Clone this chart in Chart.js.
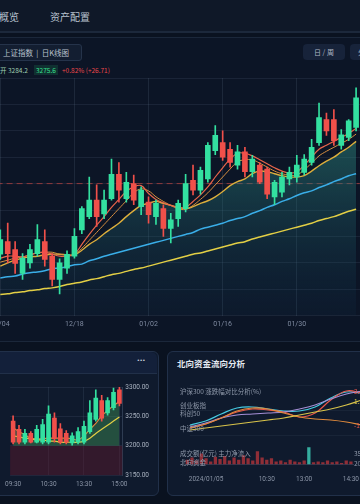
<!DOCTYPE html>
<html>
<head>
<meta charset="utf-8">
<script src="https://cdn.jsdelivr.net/npm/chart.js@4.4.0/dist/chart.umd.min.js"></script>
<style>
  body { margin: 0; width: 360px; height: 504px; overflow: hidden; position: relative;
         background: #0a1220; font-family: "Noto Sans CJK SC", "Noto Sans", sans-serif; color: #c3cad6; }
  .abs { position: absolute; white-space: nowrap; }
  #nav { left: 0; top: 0; width: 360px; height: 31px; background: #0f1828; border-bottom: 2px solid #1c283b; }
  .navtxt { top: 9px; font-size: 10px; color: #b8c1ce; }
  #mainPanel { left: -6px; top: 37px; width: 372px; height: 303px; background: #0c1526;
               border: 1px solid #1b273a; border-radius: 6px; }
  #symbolBox { left: -4px; top: 44px; width: 78px; height: 15px; background: #131e31; border: 1px solid #25334a;
               border-radius: 3px; font-size: 7.5px; line-height: 15px; padding-left: 6px; color: #b9c1cd; }
  .btn { top: 44px; height: 16px; background: #17233a; border-radius: 4px; font-size: 7px;
         line-height: 16px; text-align: center; color: #aeb7c5; }
  .leg { top: 65px; font-size: 6.5px; line-height: 10px; }
  .panel { top: 351px; height: 143px; background: #0f1a2d; border: 1px solid #213049; border-radius: 6px; }
  .lbl { font-size: 6.5px; color: #8f99aa; }
</style>
</head>
<body>
<div id="nav" class="abs"></div>
<div class="abs navtxt" style="left:-21px">行情概览</div>
<div class="abs navtxt" style="left:50px">资产配置</div>

<div id="mainPanel" class="abs"></div>
<div id="symbolBox" class="abs">上证指数 &nbsp;|&nbsp; 日K线图</div>
<div class="abs btn" style="left:303px;width:42px">日 / 周</div>
<div class="abs btn" style="left:350px;width:30px">分时</div>
<div class="abs leg" style="left:0;color:#9fcfb0">开 3284.2</div>
<div class="abs leg" style="left:34px;color:#38e08f;background:rgba(40,190,110,0.16);padding:0 2px">3275.6</div>
<div class="abs leg" style="left:62px;color:#e8474a">+0.82% (+26.71)</div>
<div class="abs" style="left:-13px;top:76px;width:373px;height:264px"><canvas id="mainChart"></canvas></div>

<div class="abs panel" style="left:-8px;width:165px"></div>
<div class="abs" style="left:-7px;top:352px;width:164px;height:21px;background:#13203a;border-bottom:1px solid #213049;border-radius:6px 6px 0 0"></div>
<div class="abs" style="left:137px;top:356px;font-size:8px;font-family:Roboto;color:#c9d0db">•••</div>
<div class="abs" style="left:0;top:378px;width:152px;height:117px"><canvas id="miniChart"></canvas></div>

<div class="abs panel" style="left:167px;width:210px"></div>
<div class="abs" style="left:177px;top:357px;font-size:8.5px;font-weight:bold;color:#e4e9f0">北向资金流向分析</div>
<div class="abs" style="left:175px;top:380px;width:187px;height:60px"><canvas id="flowChart"></canvas></div>
<div class="abs" style="left:168px;top:441px;width:194px;height:48px"><canvas id="volChart"></canvas></div>
<div class="abs lbl" style="left:180px;top:386px">沪深300 涨跌幅对比分析(%)</div>
<div class="abs lbl" style="left:180px;top:400px">创业板指</div>
<div class="abs lbl" style="left:180px;top:408px">科创50</div>
<div class="abs lbl" style="left:180px;top:423px">中证500</div>
<div class="abs lbl" style="left:180px;top:448px">成交额(亿元) 主力净流入</div>
<div class="abs lbl" style="left:180px;top:457px">北向资金</div>
<div class="abs lbl" style="left:354px;top:386px;color:#e8574a">2.4</div>
<div class="abs lbl" style="left:354px;top:396px;color:#d8c34a">1.5</div>
<div class="abs lbl" style="left:354px;top:420px;color:#e8574a">-1.0</div>
<div class="abs lbl" style="left:354px;top:448px">35</div>
<div class="abs lbl" style="left:354px;top:458px">20</div>

<script>
// ---- main candlestick chart ----
const mainTickText = ['12/04', '12/18', '01/02', '01/16', '01/30'];
const alertLevel = 3200;
// [open, high, low, close]
const mainOHLC = [
  [3093,3130,3085,3115], [3112,3140,3080,3094], [3100,3112,3064,3079], [3064,3094,3055,3087],
  [3080,3108,3072,3100], [3094,3138,3090,3115], [3112,3130,3075,3085], [3090,3094,3045,3055],
  [3055,3086,3033,3080], [3072,3098,3064,3093], [3090,3132,3087,3120], [3130,3165,3124,3162],
  [3150,3210,3147,3175], [3175,3198,3135,3150], [3154,3190,3147,3175], [3177,3237,3175,3214],
  [3214,3232,3172,3190], [3177,3217,3172,3202], [3200,3213,3168,3175], [3165,3195,3153,3190],
  [3172,3180,3140,3153], [3150,3175,3138,3170], [3162,3168,3120,3132], [3132,3155,3110,3145],
  [3147,3175,3135,3170], [3162,3214,3157,3200], [3205,3228,3183,3190], [3190,3225,3184,3220],
  [3207,3262,3202,3258], [3250,3288,3244,3273], [3262,3280,3235,3240], [3252,3262,3225,3232],
  [3228,3258,3222,3248], [3248,3255,3210,3218], [3218,3243,3210,3237], [3228,3232,3200,3202],
  [3222,3225,3177,3184], [3180,3205,3168,3202], [3187,3217,3180,3210], [3207,3225,3198,3217],
  [3210,3243,3202,3228], [3217,3244,3213,3237], [3232,3267,3228,3255], [3262,3322,3258,3300],
  [3297,3307,3273,3280], [3297,3312,3258,3265], [3258,3282,3252,3274], [3270,3297,3265,3295],
  [3285,3345,3280,3330]
];
const ma5 = [3087,3090,3090,3089,3092,3095,3096,3093,3090,3090,3093,3108,3123,3137,3150,3164,3176,3188,3195,3197,
  3185,3176,3171,3167,3164,3164,3173,3183,3195,3210,3224,3237,3246,3246,3242,3236,3230,3224,3219,3216,
  3218,3228,3240,3252,3258,3264,3270,3276,3284];
const ma10 = [3081,3084,3087,3089,3092,3095,3096,3096,3093,3092,3092,3102,3114,3126,3138,3150,3162,3174,3186,3192,
  3189,3180,3173,3167,3162,3161,3167,3176,3186,3198,3210,3222,3233,3236,3236,3231,3225,3219,3215,3213,
  3213,3221,3231,3242,3249,3255,3261,3267,3275];
const ma20 = [3075,3080,3084,3087,3089,3090,3092,3093,3093,3092,3092,3099,3108,3115,3124,3132,3140,3150,3159,3167,
  3170,3173,3170,3167,3164,3162,3165,3170,3174,3180,3188,3197,3203,3207,3215,3219,3218,3215,3212,3210,
  3210,3212,3219,3227,3234,3240,3248,3255,3264];
const ma60 = [3057,3059,3060,3063,3065,3066,3068,3071,3072,3074,3077,3078,3083,3086,3090,3093,3096,3099,3102,3105,
  3108,3111,3114,3117,3120,3123,3126,3131,3134,3137,3140,3144,3147,3150,3155,3159,3164,3168,3173,3177,
  3182,3186,3189,3194,3198,3203,3207,3212,3215];
const ma120 = [3032,3033,3035,3036,3038,3039,3041,3042,3044,3047,3049,3051,3054,3056,3059,3062,3064,3067,3070,3072,
  3075,3078,3081,3084,3087,3090,3093,3095,3098,3101,3104,3107,3110,3112,3116,3119,3122,3125,3128,3131,
  3134,3137,3140,3144,3147,3150,3154,3158,3161];

// ---- small intraday panel ----
const miniTickAt = [0, 6, 12, 18];
const miniTickText = ['09:30', '10:30', '13:30', '15:00'];
const miniBase = 3200;
const miniOHLC = [
  [3242,3251,3203,3206], [3228,3235,3203,3206], [3206,3228,3203,3221], [3221,3224,3205,3206],
  [3206,3235,3205,3228], [3206,3245,3203,3236], [3206,3268,3203,3254], [3247,3256,3206,3212],
  [3229,3238,3203,3206], [3221,3226,3203,3206], [3205,3222,3201,3217], [3206,3231,3203,3224],
  [3206,3242,3203,3233], [3224,3277,3221,3256], [3245,3295,3242,3281], [3277,3286,3242,3247],
  [3256,3282,3252,3277], [3265,3298,3261,3291], [3295,3300,3268,3272]
];
const miniMaA = [3231,3224,3219,3213,3212,3212,3213,3213,3213,3213,3212,3210,3217,3228,3238,3251,3260,3268,3276];
const miniMaB = [3217,3215,3213,3212,3210,3210,3208,3208,3206,3206,3206,3206,3208,3213,3221,3228,3235,3242,3249];

// ---- flow panel ----
const flowCyan   = [-1.0,-0.6,0.1,0.7,0.8,0.6,0.4,0.4,0.8,1.7,2.3,2.2];
const flowRed    = [-1.3,-0.9,-0.3,0.3,0.6,0.5,0.3,-0.2,0.2,1.5,2.4,2.2];
const flowOrange = [-1.3,-0.9,-0.3,0.4,0.7,0.6,0.2,-0.2,-0.4,-0.5,-0.7,-1.0];
const flowYellow = [-1.5,-1.3,-1.1,-0.9,-0.7,-0.5,-0.3,0.0,0.3,0.6,1.0,1.5];
const flowPurple = [-1.2,-0.8,-0.3,0.0,0.1,0.2,0.3,0.6,1.0,1.6,2.1,2.4];
const volume = [6,9,5,14,8,4,10,7,11,5,9,6,12,8,5,17,9,6,8,4,5,3,6,4,3,5,22,3,4,3,5,3,4,2,5,4];
const volInflowAt = [26];
const volTickAt = [4, 17, 25, 35];
const volTickText = ['2024/01/05', '10:30', '13:00', '14:30'];

const UP = '#33e0a0', DOWN = '#f0504a';

const levels = {
  id: 'levels',
  beforeDatasetsDraw(chart, args, opts) {
    const { ctx, chartArea: a, scales: { y } } = chart;
    ctx.save();
    if (opts.zoneBelow != null) {
      const py = y.getPixelForValue(opts.zoneBelow);
      ctx.fillStyle = 'rgba(95,25,45,0.45)';
      ctx.fillRect(a.left, py, a.right - a.left, a.bottom - py);
    }
    if (opts.dashed != null) {
      const py = y.getPixelForValue(opts.dashed);
      ctx.strokeStyle = 'rgba(205,70,65,0.65)';
      ctx.lineWidth = 1;
      ctx.setLineDash([6, 4]);
      ctx.beginPath(); ctx.moveTo(a.left, py); ctx.lineTo(a.right, py); ctx.stroke();
    }
    ctx.restore();
  }
};

function candleSets(ohlc, bodyWidth) {
  const col = ohlc.map(k => k[3] >= k[0] ? UP : DOWN);
  return [
    { type: 'bar', data: ohlc.map(k => [k[2], k[1]]), backgroundColor: col, barThickness: 1, grouped: false, order: 2 },
    { type: 'bar', data: ohlc.map(k => [k[0], k[3]]), backgroundColor: col, barThickness: bodyWidth, minBarLength: 1, grouped: false, order: 1 }
  ];
}

function maLine(data, color, width, extra) {
  return Object.assign({ type: 'line', data: data, borderColor: color, borderWidth: width,
    pointRadius: 0, tension: 0.4, fill: false, order: 5 }, extra || {});
}

const gridCol = 'rgba(120,140,170,0.13)';
const tickFont = { size: 7, family: 'Roboto' };

new Chart(document.getElementById('mainChart'), {
  type: 'bar',
  data: {
    labels: mainOHLC.map((k, i) => i),
    datasets: [
      ...candleSets(mainOHLC, 5),
      maLine(ma5, '#e8654a', 1.2),
      maLine(ma10, '#d99040', 1),
      maLine(ma20, '#dcae3c', 1.4, {
        fill: 'start', order: 6,
        backgroundColor: (c) => {
          const a = c.chart.chartArea;
          if (!a) return 'rgba(40,130,120,0.3)';
          const g = c.chart.ctx.createLinearGradient(0, a.top, 0, a.bottom);
          g.addColorStop(0.2, 'rgba(50,150,135,0.5)');
          g.addColorStop(1, 'rgba(20,60,90,0.12)');
          return g;
        }
      }),
      maLine(ma60, '#3aaee8', 1.5),
      maLine(ma120, '#e3cf45', 1.5)
    ]
  },
  options: {
    animation: false, maintainAspectRatio: false, responsive: true,
    layout: { padding: { top: 2, bottom: 8 } },
    plugins: { legend: { display: false }, tooltip: { enabled: false }, levels: { dashed: alertLevel } },
    scales: {
      x: {
        grid: { offset: false, drawTicks: false, color: (c) => c.index % 10 === 0 ? 'rgba(120,140,170,0.16)' : 'transparent' },
        border: { display: false },
        ticks: { autoSkip: false, maxRotation: 0, padding: 4, color: '#7f8aa0', font: tickFont,
                 callback: (v, i) => i % 10 === 0 ? mainTickText[i / 10] : '' }
      },
      y: {
        position: 'right', min: 3000, max: 3360,
        grid: { color: gridCol, drawTicks: false }, border: { display: false },
        ticks: { display: false, stepSize: 40 }
      }
    }
  },
  plugins: [levels]
});

new Chart(document.getElementById('miniChart'), {
  type: 'bar',
  data: {
    labels: miniOHLC.map((k, i) => i),
    datasets: [
      ...candleSets(miniOHLC, 4),
      maLine(miniMaA, '#e08a3c', 1.2, { fill: { value: miniBase }, backgroundColor: 'rgba(70,165,95,0.38)', order: 6 }),
      maLine(miniMaB, '#e3cf45', 1.2)
    ]
  },
  options: {
    animation: false, maintainAspectRatio: false, responsive: true,
    layout: { padding: { top: 9, bottom: 2 } },
    plugins: { legend: { display: false }, tooltip: { enabled: false }, levels: { zoneBelow: miniBase } },
    scales: {
      x: {
        grid: { offset: false, drawTicks: false, color: (c) => miniTickAt.includes(c.index) && c.index > 0 ? 'rgba(120,140,170,0.14)' : 'transparent' },
        border: { display: false },
        ticks: { autoSkip: false, maxRotation: 0, padding: 5, color: '#8a94a6', font: { size: 6.5, family: 'Roboto' },
                 callback: (v, i) => miniTickAt.includes(i) ? miniTickText[miniTickAt.indexOf(i)] : '' }
      },
      y: {
        position: 'right', min: 3150, max: 3300,
        grid: { color: gridCol, drawTicks: false }, border: { display: true, color: 'rgba(120,140,170,0.3)' },
        ticks: { stepSize: 50, padding: 3, color: '#a9b2c0', font: { size: 6.5, family: 'Roboto' }, callback: v => v.toFixed(2) }
      }
    }
  },
  plugins: [levels]
});

new Chart(document.getElementById('flowChart'), {
  type: 'line',
  data: {
    labels: flowCyan.map((v, i) => i),
    datasets: [
      maLine(flowYellow, '#d8c34a', 1.1),
      maLine(flowOrange, '#e08a3c', 1.1),
      maLine(flowPurple, '#a58fd6', 1.1),
      maLine(flowRed, '#e8574a', 1.2),
      maLine(flowCyan, '#46c9e0', 1.2)
    ]
  },
  options: {
    animation: false, maintainAspectRatio: false, responsive: true,
    layout: { padding: { left: 15, top: 5, bottom: 5 } },
    plugins: { legend: { display: false }, tooltip: { enabled: false } },
    scales: {
      x: { display: false, offset: false },
      y: { min: -2, max: 3, grid: { color: 'rgba(120,140,170,0.09)', drawTicks: false }, border: { display: false },
           ticks: { display: false, stepSize: 2.5 } }
    }
  }
});

new Chart(document.getElementById('volChart'), {
  type: 'bar',
  data: {
    labels: volume.map((v, i) => i),
    datasets: [{
      data: volume,
      backgroundColor: (c) => volInflowAt.includes(c.dataIndex) ? 'rgba(60,200,180,0.85)' : 'rgba(200,55,60,0.7)',
      barPercentage: 0.7, categoryPercentage: 1
    }]
  },
  options: {
    animation: false, maintainAspectRatio: false, responsive: true,
    layout: { padding: { left: 17, top: 4, bottom: 5 } },
    plugins: { legend: { display: false }, tooltip: { enabled: false } },
    scales: {
      x: {
        grid: { display: false }, border: { color: 'rgba(120,140,170,0.25)' },
        ticks: { autoSkip: false, maxRotation: 0, padding: 3, color: '#8a94a6', font: { size: 6.5, family: 'Roboto' },
                 callback: (v, i) => volTickAt.includes(i) ? volTickText[volTickAt.indexOf(i)] : '' }
      },
      y: { min: 0, max: 25, display: false }
    }
  }
});
</script>
</body>
</html>
